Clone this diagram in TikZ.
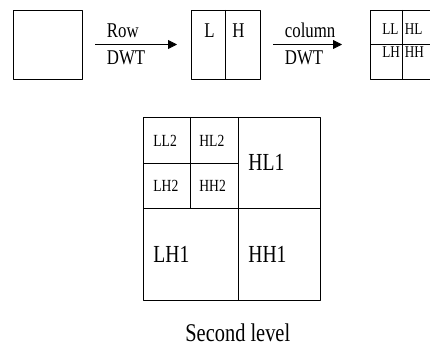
\documentclass[tikz,border=0pt]{standalone}
\usepackage{fontspec}
\setmainfont{Liberation Serif}[FakeStretch=0.8]
\usetikzlibrary{arrows.meta}
\begin{document}
\begin{tikzpicture}[x=1pt, y=-1pt, line join=round, line width=.8pt,
  >={Triangle[length=9pt, width=9pt]},
  box/.style={draw, minimum width=69pt, minimum height=69pt, inner sep=0pt, outer sep=0pt},
  lbl/.style={anchor=base west, inner sep=0pt, font=\fontsize{21}{21}\selectfont},
  sub/.style={anchor=base west, inner sep=0pt, font=\fontsize{16.5}{16.5}\selectfont},
  subtwo/.style={anchor=base west, inner sep=0pt, font=\fontsize{17}{17}\selectfont},
  subone/.style={anchor=base west, inner sep=0pt, font=\fontsize{24.5}{24.5}\selectfont}]
\clip (0,0) rectangle (430,347);
%Hang tren: anh, L|H, LL|HL
\node[box] (img) at (47.5,44.5) {};
\node[box] (lh) at (225.5,44.5) {};
\node[box] (four) at (404.5,44.5) {};
\draw (lh.north) -- (lh.south);
\draw (402,10) -- (402,79) (four.west) -- (439,44.5);
\node[lbl] (l) at (204,38) {L};
\node[lbl] (h) at (232,38) {H};
\node[sub] (ll) at (382,35) {LL};
\node[sub] (hl) at (404.5,35) {HL};
\node[sub] (lhs) at (382,58) {LH};
\node[sub] (hh) at (404.5,58) {HH};
%Mui ten
\draw[->, shorten <=13pt, shorten >=14pt] (img.east) -- (lh.west);
\draw[->, shorten <=13pt, shorten >=28pt] (lh.east) -- (four.west);
\node[lbl] (row) at (106.5,38) {Row};
\node[lbl] (dwta) at (106.5,65) {DWT};
\node[lbl] (col) at (284.5,38) {column};
\node[lbl] (dwtb) at (284.5,65) {DWT};
%Phan tich muc hai
\node[draw, minimum width=177pt, minimum height=183pt, inner sep=0pt, outer sep=0pt] (grid) at (231.5,208.5) {};
\draw (238,117) -- (238,300) (143,208) -- (320,208);
\draw (190,117) -- (190,208) (143,163) -- (238,163);
\node[subtwo] (ll2) at (153,147) {LL2};
\node[subtwo] (hl2) at (199,147) {HL2};
\node[subtwo] (lh2) at (153,192) {LH2};
\node[subtwo] (hh2) at (199,192) {HH2};
\node[subone] (hl1) at (248,171) {HL1};
\node[subone] (lh1) at (153,262) {LH1};
\node[subone] (hh1) at (248,262) {HH1};
\node[anchor=base west, inner sep=0pt, font=\fontsize{25.5}{25.5}\selectfont] (cap) at (185,341) {Second level};
\end{tikzpicture}
\end{document}
